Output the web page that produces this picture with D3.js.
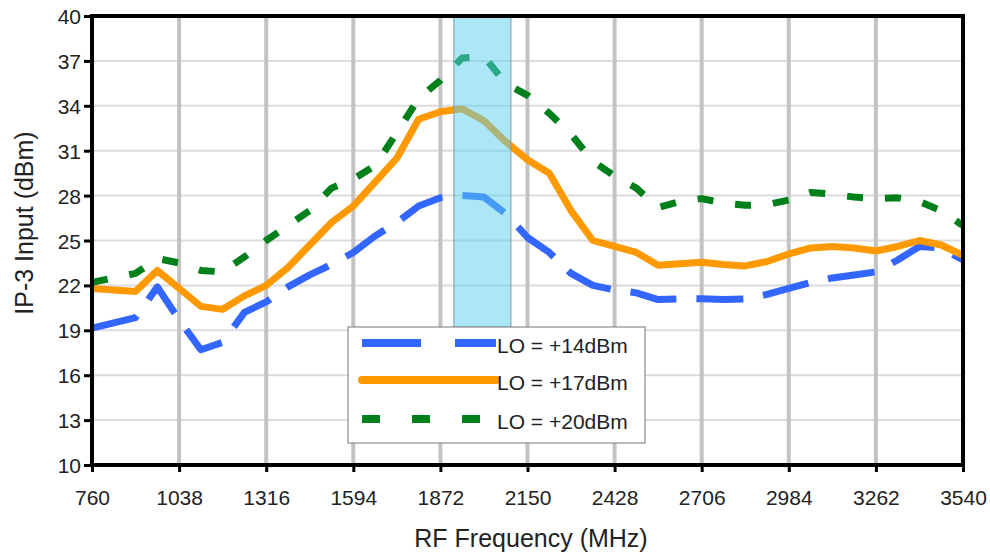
<!DOCTYPE html>
<html>
<head>
<meta charset="utf-8">
<script src="https://cdn.jsdelivr.net/npm/d3@7"></script>
<style>
  body { margin: 0; background: #fff; overflow: hidden; }
  text { font-family: "Liberation Sans", Arial, sans-serif; fill: #222; }
</style>
</head>
<body>
<div id="chart"></div>
<script>
var freqs = [760, 829.5, 899, 968.5, 1038, 1107.5, 1177, 1246.5, 1316, 1385.5, 1455, 1524.5,
  1594, 1663.5, 1733, 1802.5, 1872, 1941.5, 2011, 2080.5, 2150, 2219.5, 2289, 2358.5,
  2428, 2497.5, 2567, 2636.5, 2706, 2775.5, 2845, 2914.5, 2984, 3053.5, 3123, 3192.5,
  3262, 3331.5, 3401, 3470.5, 3540];

var lo14 = [19.15, 19.5, 19.85, 21.9, 19.7, 17.7, 18.2, 20.2, 20.9, 21.9, 22.7, 23.4,
  24.2, 25.3, 26.2, 27.3, 27.85, 28.0, 27.9, 26.8, 25.2, 24.2, 22.8, 22.0,
  21.7, 21.5, 21.05, 21.1, 21.1, 21.05, 21.1, 21.4, 21.8, 22.2, 22.5, 22.7,
  22.9, 23.7, 24.6, 24.5, 23.7];

var lo17 = [21.8, 21.7, 21.6, 23.0, 21.8, 20.6, 20.4, 21.3, 22.0, 23.2, 24.7, 26.2,
  27.3, 28.9, 30.5, 33.1, 33.6, 33.8, 33.0, 31.6, 30.4, 29.5, 27.0, 25.0,
  24.6, 24.2, 23.35, 23.45, 23.55, 23.4, 23.3, 23.6, 24.1, 24.5, 24.6, 24.5,
  24.3, 24.6, 25.0, 24.7, 24.0];

var lo20 = [22.2, 22.5, 22.8, 23.8, 23.5, 23.0, 22.9, 23.9, 25.0, 26.0, 27.0, 28.5,
  29.1, 30.0, 32.2, 34.5, 35.7, 37.2, 37.3, 35.5, 34.7, 33.5, 32.1, 30.3,
  29.3, 28.5, 27.2, 27.6, 27.8, 27.5, 27.35, 27.4, 27.7, 28.2, 28.1, 27.9,
  27.8, 27.85, 27.6, 27.0, 26.0];

var seriesNames = ['LO = +14dBm', 'LO = +17dBm', 'LO = +20dBm'];
var xTicks = [760, 1038, 1316, 1594, 1872, 2150, 2428, 2706, 2984, 3262, 3540];
var yTicks = [10, 13, 16, 19, 22, 25, 28, 31, 34, 37, 40];
var band = [1915, 2097];
var bandLow = 19.2;

var W = 990, H = 556;
var pLeft = 92, pRight = 963, pTop = 16, pBottom = 465;

var svg = d3.select('#chart').append('svg')
  .attr('width', W)
  .attr('height', H);

var x = d3.scaleLinear().domain([760, 3540]).range([pLeft, pRight]);
var y = d3.scaleLinear().domain([10, 40]).range([pBottom, pTop]);

// horizontal grid
svg.append('g').selectAll('line')
  .data(yTicks)
  .enter().append('line')
  .attr('x1', pLeft).attr('x2', pRight)
  .attr('y1', function (d) { return y(d); })
  .attr('y2', function (d) { return y(d); })
  .attr('stroke', '#dcdcdc')
  .attr('stroke-width', 2);

// vertical grid
svg.append('g').selectAll('line')
  .data(xTicks)
  .enter().append('line')
  .attr('x1', function (d) { return x(d); })
  .attr('x2', function (d) { return x(d); })
  .attr('y1', pTop).attr('y2', pBottom)
  .attr('stroke', '#c3c3c3')
  .attr('stroke-width', 4);

var styles = [
  { color: '#3366ff', dash: '47,20', legendDash: '59,34' },
  { color: '#ff9900', dash: null, legendDash: null },
  { color: '#00801a', dash: '16,22', legendDash: '18,32' }
];
var data = [lo14, lo17, lo20];

var line = d3.line()
  .x(function (d, i) { return x(freqs[i]); })
  .y(function (d) { return y(d); });

svg.append('g').selectAll('path')
  .data(data)
  .enter().append('path')
  .attr('d', line)
  .attr('fill', 'none')
  .attr('stroke', function (d, i) { return styles[i].color; })
  .attr('stroke-width', 7)
  .attr('stroke-linejoin', 'round')
  .attr('stroke-dasharray', function (d, i) { return styles[i].dash; });

// highlighted band, drawn over the lines
svg.append('rect')
  .attr('x', x(band[0]))
  .attr('y', y(40))
  .attr('width', x(band[1]) - x(band[0]))
  .attr('height', y(bandLow) - y(40))
  .attr('fill', 'rgba(90,208,242,0.5)')
  .attr('stroke', '#7a9aa8')
  .attr('stroke-width', 1);

// plot frame
svg.append('rect')
  .attr('x', pLeft).attr('y', pTop)
  .attr('width', pRight - pLeft).attr('height', pBottom - pTop)
  .attr('fill', 'none')
  .attr('stroke', '#000')
  .attr('stroke-width', 4);

// axes
var xAxis = d3.axisBottom(x).tickValues(xTicks).tickSize(7).tickPadding(10).tickFormat(d3.format('d'));
var yAxis = d3.axisLeft(y).tickValues(yTicks).tickSize(8).tickPadding(3);

var gx = svg.append('g').attr('transform', 'translate(0,' + pBottom + ')').call(xAxis);
var gy = svg.append('g').attr('transform', 'translate(' + pLeft + ',0)').call(yAxis);

[gx, gy].forEach(function (g) {
  g.select('.domain').remove();
  g.selectAll('.tick line').attr('stroke', '#000').attr('stroke-width', 3);
  g.selectAll('.tick text')
    .attr('font-size', 21)
    .attr('font-family', '"Liberation Sans", Arial, sans-serif')
    .attr('fill', '#222');
});
gx.selectAll('.tick text').attr('y', 40).attr('dy', null);
gy.selectAll('.tick text').attr('dy', '0.36em');

// axis titles
svg.append('text')
  .attr('x', 531)
  .attr('y', 547)
  .attr('text-anchor', 'middle')
  .attr('font-size', 25)
  .text('RF Frequency (MHz)');

svg.append('text')
  .attr('transform', 'translate(33,223) rotate(-90)')
  .attr('text-anchor', 'middle')
  .attr('font-size', 25)
  .text('IP-3 Input (dBm)');

// legend
var lg = svg.append('g').attr('transform', 'translate(348,327)');
lg.append('rect')
  .attr('width', 297).attr('height', 116)
  .attr('fill', '#fff')
  .attr('stroke', '#777')
  .attr('stroke-width', 1);

var rows = lg.selectAll('g.row')
  .data(seriesNames)
  .enter().append('g')
  .attr('class', 'row')
  .attr('transform', function (d, i) { return 'translate(0,' + [16, 53, 92][i] + ')'; });

rows.append('line')
  .attr('x1', 14).attr('x2', 148)
  .attr('stroke', function (d, i) { return styles[i].color; })
  .attr('stroke-width', 8)
  .attr('stroke-linecap', function (d, i) { return i === 1 ? 'round' : 'butt'; })
  .attr('stroke-dasharray', function (d, i) { return styles[i].legendDash; });

rows.append('text')
  .attr('x', 149)
  .attr('y', 10)
  .attr('font-size', 21)
  .text(function (d) { return d; });
</script>
</body>
</html>
